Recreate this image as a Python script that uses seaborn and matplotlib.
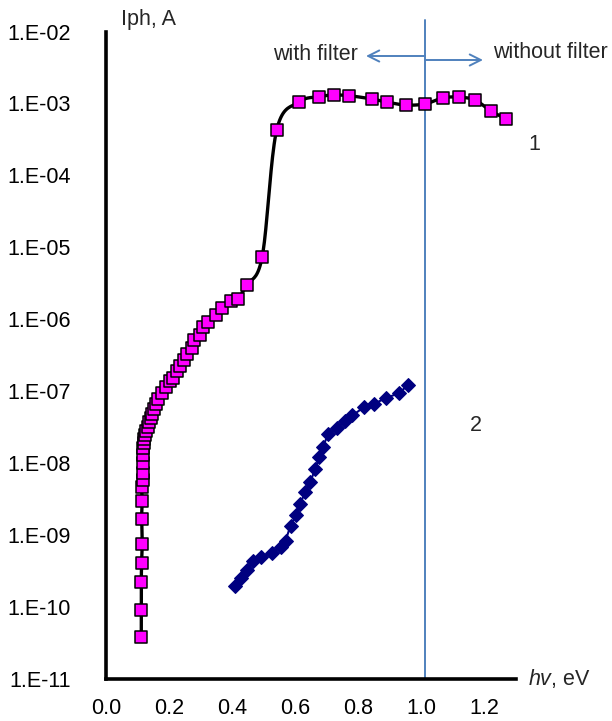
import numpy as np
import pandas as pd
import matplotlib
matplotlib.use("Agg")
import matplotlib.pyplot as plt
import seaborn as sns

# ---- data ----
x1 = [0.112, 0.112, 0.112, 0.113, 0.115, 0.113, 0.115, 0.113, 0.116, 0.116, 0.118,
      0.118, 0.119, 0.120, 0.122, 0.125, 0.128, 0.132, 0.137, 0.142, 0.147, 0.152,
      0.158, 0.166, 0.177, 0.190, 0.203, 0.214, 0.226, 0.235, 0.249, 0.256, 0.272,
      0.279, 0.298, 0.307, 0.325, 0.348, 0.367, 0.396, 0.418, 0.447, 0.496, 0.542,
      0.614, 0.676, 0.724, 0.772, 0.844, 0.893, 0.951, 1.013, 1.071, 1.121, 1.171,
      1.221, 1.270]
y1 = [3.85e-11, 9.0e-11, 2.2e-10, 4.1e-10, 7.5e-10, 1.7e-9, 3.0e-9, 4.6e-9, 5.9e-9, 7.4e-9, 1.0e-8,
      1.3e-8, 1.6e-8, 1.9e-8, 2.2e-8, 2.5e-8, 2.8e-8, 3.2e-8, 3.7e-8, 4.3e-8, 4.9e-8, 5.6e-8,
      6.6e-8, 7.8e-8, 9.4e-8, 1.14e-7, 1.37e-7, 1.52e-7, 1.88e-7, 2.26e-7, 2.74e-7, 3.32e-7, 3.98e-7,
      5.2e-7, 5.96e-7, 7.7e-7, 9.1e-7, 1.15e-6, 1.43e-6, 1.77e-6, 1.91e-6, 3.0e-6, 7.45e-6, 4.3e-4,
      1.05e-3, 1.24e-3, 1.31e-3, 1.28e-3, 1.155e-3, 1.04e-3, 9.5e-4, 9.85e-4, 1.2e-3, 1.22e-3, 1.12e-3,
      7.9e-4, 6.1e-4]

x2 = [0.410, 0.428, 0.447, 0.468, 0.491, 0.526, 0.556, 0.570, 0.586, 0.603, 0.616, 0.633,
      0.648, 0.664, 0.676, 0.688, 0.706, 0.732, 0.759, 0.782, 0.819, 0.851, 0.888, 0.930, 0.960]
y2 = [1.99e-10, 2.54e-10, 3.25e-10, 4.3e-10, 4.9e-10, 5.7e-10, 6.8e-10, 8.4e-10, 1.36e-9, 1.88e-9,
      2.71e-9, 3.98e-9, 5.4e-9, 8.3e-9, 1.2e-8, 1.68e-8, 2.55e-8, 3.05e-8, 3.9e-8, 4.6e-8, 6.0e-8,
      6.7e-8, 8.0e-8, 9.4e-8, 1.23e-7]

x_ticks = [0.0, 0.2, 0.4, 0.6, 0.8, 1.0, 1.2]
x_tick_labels = ["0.0", "0.2", "0.4", "0.6", "0.8", "1.0", "1.2"]
y_exps = [2, 3, 4, 5, 6, 7, 8, 9, 10, 11]
y_tick_labels = ["1.E-%02d" % e for e in y_exps]
filter_edge = 1.013

# ---- style ----
sns.set_style("white")
plt.rcParams['font.family'] = ['Liberation Sans', 'DejaVu Sans']
plt.rcParams['mathtext.fontset'] = 'custom'
plt.rcParams['mathtext.rm'] = 'Liberation Sans'
plt.rcParams['mathtext.it'] = 'Liberation Sans:italic'
FS = 15.5

fig = plt.figure(figsize=(6.12, 7.21), dpi=100)
L, R, B, T = 106 / 612, 515.5 / 612, 1 - 679 / 721, 1 - 31.5 / 721
ax = fig.add_axes([L, B, R - L, T - B])


def catmull_rom(xs, ys, n=20):
    px = np.asarray(xs, float)
    py = np.log10(np.asarray(ys, float))
    P = np.column_stack([px, py])
    P = np.vstack([P[0], P, P[-1]])
    out = []
    t = np.linspace(0, 1, n, endpoint=False)[:, None]
    for i in range(1, len(P) - 2):
        p0, p1, p2, p3 = P[i - 1], P[i], P[i + 1], P[i + 2]
        seg = 0.5 * ((2 * p1) + (-p0 + p2) * t + (2 * p0 - 5 * p1 + 4 * p2 - p3) * t ** 2
                     + (-p0 + 3 * p1 - 3 * p2 + p3) * t ** 3)
        out.append(seg)
    out.append(P[-2][None, :])
    out = np.vstack(out)
    return out[:, 0], 10 ** out[:, 1]


# series 1: smoothed black line + magenta squares
sx, sy = catmull_rom(x1, y1)
ax.plot(sx, sy, color='black', lw=2.4, zorder=3, solid_capstyle='round')
df1 = pd.DataFrame({'x': x1, 'y': y1})
sns.scatterplot(data=df1, x='x', y='y', marker='s', s=78, color='#FF00FF',
                edgecolor='black', linewidth=1.1, ax=ax, zorder=4)

# series 2: navy diamonds
df2 = pd.DataFrame({'x': x2, 'y': y2})
sns.lineplot(data=df2, x='x', y='y', color='#000080', lw=1.5, marker='D',
             markersize=7.2, markeredgecolor='#000080', sort=False, ax=ax, zorder=4)

ax.set_yscale('log')
ax.set_xlim(0, 1.3)
ax.set_ylim(1e-11, 1e-2)
ax.set_xticks(x_ticks)
ax.set_xticklabels(x_tick_labels, fontsize=FS)
ax.set_yticks([10.0 ** (-e) for e in y_exps])
ax.set_yticklabels(y_tick_labels, fontsize=FS)
ax.yaxis.set_minor_locator(matplotlib.ticker.NullLocator())
ax.tick_params(axis='both', which='major', direction='out', length=5.5, width=2.2,
               color='black', labelcolor='black')
ax.tick_params(axis='y', pad=20)
ax.tick_params(axis='x', pad=8)
ax.set_xlabel('')
ax.set_ylabel('')
for side in ['top', 'right']:
    ax.spines[side].set_visible(False)
for side in ['left', 'bottom']:
    ax.spines[side].set_linewidth(2.6)
    ax.spines[side].set_color('black')

# filter boundary
blue = '#4F81BD'
ax.axvline(filter_edge, ymin=0, ymax=1.018, color=blue, lw=1.4, clip_on=False, zorder=2)


def axf(px, py):
    return ((px - 106) / 409.5, (679 - py) / 647.5)


ax.annotate('', xy=axf(366, 56), xytext=axf(425, 56), xycoords='axes fraction',
            textcoords='axes fraction',
            arrowprops=dict(arrowstyle='->', color=blue, lw=1.4, mutation_scale=20,
                            shrinkA=0, shrinkB=0), annotation_clip=False)
ax.annotate('', xy=axf(483, 60), xytext=axf(425, 60), xycoords='axes fraction',
            textcoords='axes fraction',
            arrowprops=dict(arrowstyle='->', color=blue, lw=1.4, mutation_scale=20,
                            shrinkA=0, shrinkB=0), annotation_clip=False)

fig.text(315 / 612, 1 - 54 / 721, 'with filter', fontsize=FS, ha='center', va='center')
fig.text(550 / 612, 1 - 53 / 721, 'without filter', fontsize=FS, ha='center', va='center')
fig.text(121 / 612, 1 - 20 / 721, 'Iph, A', fontsize=FS, ha='left', va='center')
fig.text(528 / 612, 1 - 679 / 721, '$hv$, eV', fontsize=FS, ha='left', va='center')
fig.text(534 / 612, 1 - 145 / 721, '1', fontsize=FS, ha='center', va='center')
fig.text(476 / 612, 1 - 426 / 721, '2', fontsize=FS, ha='center', va='center')

fig.savefig('out.png', dpi=100)
